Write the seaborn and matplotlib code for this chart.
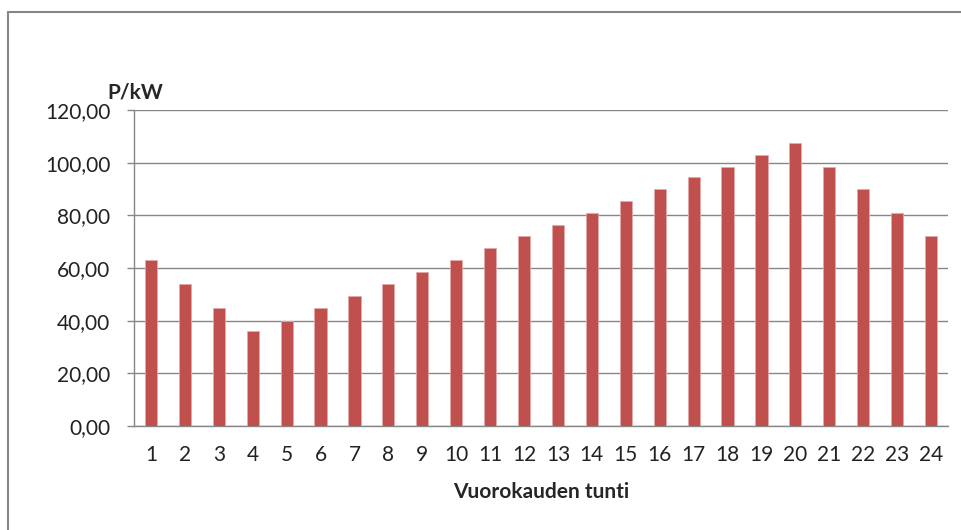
import numpy as np
import matplotlib
matplotlib.use("Agg")
import matplotlib.pyplot as plt
from matplotlib.lines import Line2D
from matplotlib.ticker import FuncFormatter, FixedLocator
import seaborn as sns
import pandas as pd

# tunnit ja teho (P/kW)
hours = list(range(1, 25))
power = [63, 54, 45, 36, 40, 45, 49.5, 54, 58.5, 63, 67.5, 72,
         76.5, 81, 85.5, 90, 94.5, 98.5, 103, 107.5, 98.5, 90, 81, 72]
yticks = [0, 20, 40, 60, 80, 100, 120]

df = pd.DataFrame({"tunti": [str(h) for h in hours], "P": power})

sns.set_style("white")
plt.rcParams['font.family'] = ['Lato', 'DejaVu Sans']

W, H = 961, 530
fig = plt.figure(figsize=(W / 100, H / 100), dpi=100)
ax = fig.add_axes([134 / W, 1 - 426 / H, 814 / W, 316 / H])

sns.barplot(data=df, x="tunti", y="P", color="#C0504D", saturation=1,
            width=0.36, edgecolor="#E3A9A7", linewidth=0.6, ax=ax, zorder=3)

grid_c = "#868686"
ax.set_ylim(0, 120)
ax.set_xlim(-0.5, len(hours) - 0.5)
ax.yaxis.set_major_locator(FixedLocator(yticks))
ax.yaxis.set_major_formatter(FuncFormatter(lambda v, p: f"{v:.2f}".replace('.', ',')))
ax.grid(axis="y", color=grid_c, lw=1, zorder=0)
ax.set_axisbelow(True)

for s in ["top", "right"]:
    ax.spines[s].set_visible(False)
for s in ["left", "bottom"]:
    ax.spines[s].set_color(grid_c)
    ax.spines[s].set_linewidth(1)

# x-akselin väliviivat kategorioiden rajoilla
ax.set_xticks(np.arange(-0.5, len(hours)), minor=True)
ax.tick_params(axis="x", which="major", length=0, pad=14, labelsize=15, colors="#222222")
ax.tick_params(axis="x", which="minor", length=5, width=1, color=grid_c, direction="out")
ax.tick_params(axis="y", which="major", length=5, width=1, color=grid_c, pad=12,
               labelsize=15, labelcolor="#222222", left=True)

ax.set_xlabel("Vuorokauden tunti", fontsize=15, fontweight="bold", labelpad=12)
ax.set_ylabel("")
ax.text(-0.033, 1.035, "P/kW", transform=ax.transAxes, fontsize=15,
        fontweight="bold", ha="left", va="baseline")

# kaavion reunaviiva
fig.add_artist(Line2D([8 / W, 8 / W], [0, 1 - 12 / H], color=grid_c, lw=1.5,
                      transform=fig.transFigure))
fig.add_artist(Line2D([8 / W, 1], [1 - 12 / H, 1 - 12 / H], color=grid_c, lw=1.5,
                      transform=fig.transFigure))

fig.savefig("out.png", dpi=100)
